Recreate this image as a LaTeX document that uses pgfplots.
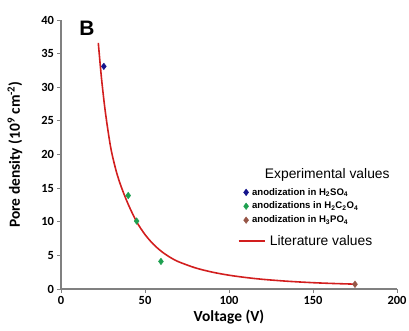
\documentclass[border=0pt]{standalone}
\usepackage{fontspec}
\setmainfont{Carlito}
\newfontfamily\arial{Liberation Sans}
\usepackage{pgfplots}
\pgfplotsset{compat=1.18}
\definecolor{cblue}{RGB}{20,20,140}
\definecolor{cgreen}{RGB}{30,160,80}
\definecolor{cbrown}{RGB}{150,85,70}
\definecolor{cred}{RGB}{210,30,30}
\definecolor{axgray}{RGB}{128,128,128}
\begin{document}
\begin{tikzpicture}
\useasboundingbox (-61bp,-42bp) rectangle (348bp,289bp);
\begin{axis}[
  scale only axis, width=336bp, height=269bp,
  xmin=0, xmax=200, ymin=0, ymax=40,
  axis lines=left, axis line style={-, draw=axgray, line width=1.2pt},
  xtick={0,50,...,200}, ytick={0,5,...,40},
  tick align=outside, major tick length=3.5bp,
  tick style={axgray, line width=0.8pt},
  /pgf/number format/assume math mode=true,
  tick label style={font=\fontsize{12.5}{14}\selectfont\bfseries},
  xlabel={Voltage (V)},
  ylabel={Pore density (10\textsuperscript{9} cm\textsuperscript{-2})},
  label style={font=\fontsize{15.5}{17}\selectfont\bfseries},
  xlabel style={at={(axis description cs:0.5,-0.104)}, anchor=center},
  ylabel style={at={(axis description cs:-0.137,0.5)}, anchor=center},
  clip=false,
  legend style={at={(0.525,0.178)}, anchor=west, draw=none, fill=none,
    inner sep=0pt, column sep=2bp, font=\arial\fontsize{13.9}{15}\selectfont},
  legend image code/.code={\draw[#1, line width=2.2pt] (0cm,0cm) -- (0.92cm,0cm);},
]
\addplot[cred, line width=1.6pt, smooth] coordinates {
(22.2,36.6) (24,31.6) (26,27.1) (28,23.5) (30,20.5) (33,17.4) (36,15.1)
(40,12.6) (45,10.0) (50,8.1) (55,6.65) (60,5.55) (65,4.7) (70,4.05)
(80,3.14) (90,2.51) (100,2.05) (110,1.71) (120,1.44) (135,1.15)
(150,0.94) (162,0.82) (175,0.72)};
\addlegendentry{Literature values}
\node[font=\arial\bfseries\fontsize{21}{23}\selectfont] at (axis cs:15.5,38.8) {B};
\node[font=\arial\fontsize{13.9}{15}\selectfont] at (axis cs:158.5,17.0) {Experimental values};
\end{axis}
\begin{axis}[
  scale only axis, width=336bp, height=269bp,
  xmin=0, xmax=200, ymin=0, ymax=40,
  hide axis, clip=false,
  legend style={at={(0.543,0.383)}, anchor=north west, draw=none, fill=none,
    inner sep=0pt, row sep=1.5pt, column sep=1.5bp, font=\arial\bfseries\fontsize{9.6}{11}\selectfont},
  legend cell align=left,
]
\addplot[only marks, mark=diamond*, mark size=3.3bp, color=cblue] coordinates {(25.5,33.1)};
\addlegendentry{anodization in H\textsubscript{2}SO\textsubscript{4}}
\addplot[only marks, mark=diamond*, mark size=3.3bp, color=cgreen] coordinates {(40,13.9) (45,10.1) (59.5,4.1)};
\addlegendentry{anodizations in H\textsubscript{2}C\textsubscript{2}O\textsubscript{4}}
\addplot[only marks, mark=diamond*, mark size=3.3bp, color=cbrown] coordinates {(175,0.7)};
\addlegendentry{anodization in H\textsubscript{3}PO\textsubscript{4}}
\end{axis}
\end{tikzpicture}
\end{document}
